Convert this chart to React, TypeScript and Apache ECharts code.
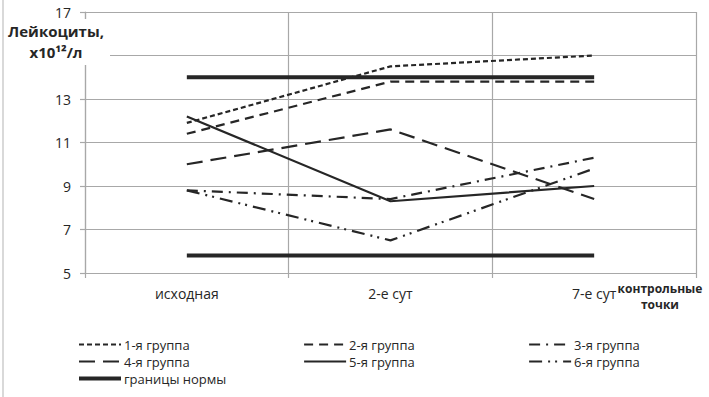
import React, { useEffect, useRef } from "react";
import * as echarts from "echarts";

const categories = ["исходная", "2-е сут", "7-е сут"];
const seriesNames = ["1-я группа", "2-я группа", "3-я группа", "4-я группа", "5-я группа", "6-я группа"];
const group1 = [11.9, 14.5, 15.0];
const group2 = [11.4, 13.8, 13.8];
const group3 = [8.8, 8.4, 10.3];
const group4 = [10.0, 11.6, 8.4];
const group5 = [12.2, 8.3, 9.0];
const group6 = [8.8, 6.5, 9.8];
const normUpper = [14, 14, 14];
const normLower = [5.8, 5.8, 5.8];
const normName = "границы нормы";
const yLabelValues = [5, 7, 9, 11, 13, 17];

const FONT = "'Open Sans', sans-serif";
const INK = "#262626";
const GRID = "#a8a8a8";

const dashes: (number[] | "solid")[] = [
  [5, 3],
  [9, 6],
  [11, 6, 2, 6],
  [16, 8],
  "solid",
  [13, 6, 2, 5, 2, 6],
];

const toPoints = (vals: number[]) => vals.map((v, i) => [i + 1, v]);

export default function App() {
  const ref = useRef<HTMLDivElement>(null);
  useEffect(() => {
    if (!ref.current) return;
    const chart = echarts.init(ref.current, undefined, { renderer: "svg" });
    const groups = [group1, group2, group3, group4, group5, group6];
    const series: any[] = groups.map((g, i) => ({
      name: seriesNames[i],
      type: "line",
      data: toPoints(g),
      symbol: "none",
      lineStyle: { color: INK, width: 2.2, type: dashes[i] },
      itemStyle: { color: INK },
    }));
    [normUpper, normLower].forEach((g) => {
      series.push({
        name: normName,
        type: "line",
        data: toPoints(g),
        symbol: "none",
        lineStyle: { color: INK, width: 4, type: "solid" },
        itemStyle: { color: INK },
      });
    });
    const item = (i: number) => ({ name: seriesNames[i], lineStyle: { width: 2.2, type: dashes[i], color: INK } });
    const legendBase = {
      orient: "vertical",
      top: 333,
      itemGap: 4,
      itemWidth: 42,
      itemHeight: 14,
      itemStyle: { opacity: 0 },
      textStyle: { fontFamily: FONT, fontSize: 13, color: INK, padding: [0, 0, 0, -2] },
    };
    chart.setOption({
      animation: false,
      grid: { left: 85, right: 13, top: 12, bottom: 124, containLabel: false },
      xAxis: {
        type: "value",
        min: 0.5,
        max: 3.5,
        interval: 0.5,
        axisLine: { show: true, lineStyle: { color: GRID, width: 1.2 } },
        axisTick: { show: true, length: 5, customValues: [0.5, 1.5, 2.5, 3.5], lineStyle: { color: GRID, width: 1.2 } },
        splitLine: { show: true, lineStyle: { color: GRID, width: 1.2 } },
        axisLabel: {
          customValues: [1, 2, 3],
          formatter: (v: number) => categories[Math.round(v) - 1] ?? "",
          margin: 13,
          fontFamily: FONT,
          fontSize: 14,
          color: INK,
        },
      },
      yAxis: {
        type: "value",
        min: 5,
        max: 17,
        interval: 2,
        axisLine: { show: true, lineStyle: { color: GRID, width: 1.2 } },
        axisTick: { show: true, length: 5, lineStyle: { color: GRID, width: 1.2 } },
        splitLine: { show: true, lineStyle: { color: GRID, width: 1.2 } },
        axisLabel: { customValues: yLabelValues, margin: 14, fontFamily: FONT, fontSize: 14, color: INK },
      },
      legend: [
        { ...legendBase, left: 72, data: [item(0), item(3), { name: normName, lineStyle: { width: 4, color: INK, type: "solid" } }] },
        { ...legendBase, left: 298, data: [item(1), item(4)] },
        { ...legendBase, left: 523, data: [item(2), item(5)] },
      ],
      graphic: [
        { type: "line", z: 100, shape: { x1: 3, y1: 0, x2: 3, y2: 397 }, style: { stroke: "#cccccc", lineWidth: 1.5 } },
        { type: "rect", z: 100, shape: { x: 6, y: 19, width: 104, height: 46 }, style: { fill: "#ffffff" } },
        {
          type: "text",
          z: 101,
          style: {
            text: "Лейкоциты,",
            x: 56,
            y: 31,
            textAlign: "center",
            textVerticalAlign: "middle",
            fontFamily: FONT,
            fontWeight: "bold",
            fontSize: 15,
            fill: INK,
          },
        },
        {
          type: "text",
          z: 101,
          style: {
            text: "x10¹²/л",
            x: 56,
            y: 52,
            textAlign: "center",
            textVerticalAlign: "middle",
            fontFamily: FONT,
            fontWeight: "bold",
            fontSize: 15,
            fill: INK,
          },
        },
        {
          type: "text",
          z: 101,
          style: {
            text: "контрольные\nточки",
            x: 660,
            y: 296,
            textAlign: "center",
            textVerticalAlign: "middle",
            lineHeight: 16,
            fontFamily: FONT,
            fontWeight: "bold",
            fontSize: 12,
            fill: INK,
          },
        },
      ],
      series,
    });
    return () => chart.dispose();
  }, []);
  return <div ref={ref} style={{ width: 709, height: 397, position: "absolute", left: 0, top: 0 }} />;
}
